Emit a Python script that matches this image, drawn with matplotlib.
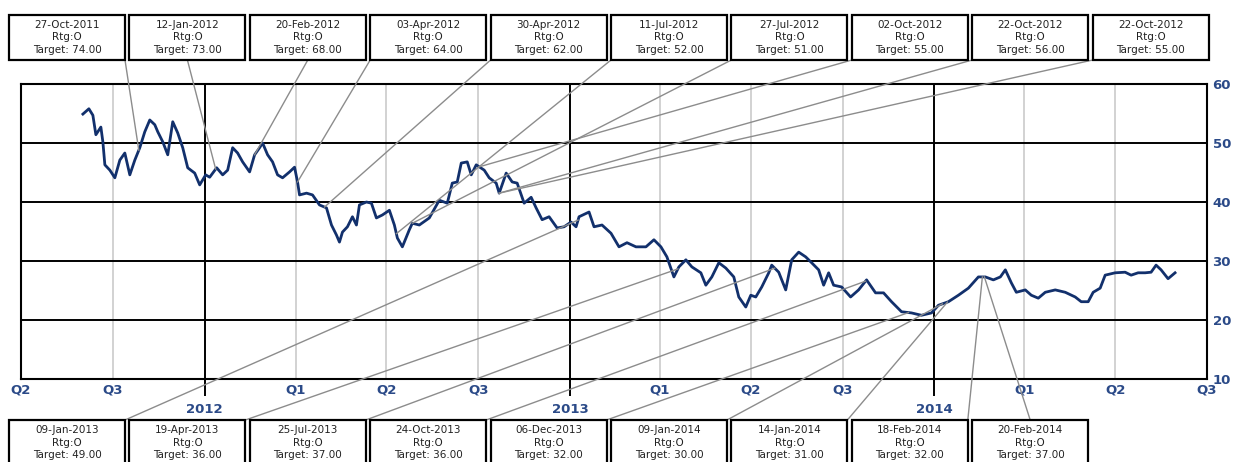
import numpy as np
import pandas as pd
import matplotlib
matplotlib.use("Agg")
import matplotlib.pyplot as plt
import matplotlib.dates as mdates
from matplotlib.patches import Rectangle
from matplotlib.lines import Line2D

# precio de cierre (lecturas aproximadas)
price_dates = [
    '2011-09-01', '2011-09-07', '2011-09-11', '2011-09-14', '2011-09-19', '2011-09-21',
    '2011-09-23', '2011-09-28', '2011-10-03', '2011-10-08', '2011-10-13', '2011-10-18',
    '2011-10-23', '2011-10-28', '2011-11-02', '2011-11-07', '2011-11-12', '2011-11-15',
    '2011-11-20', '2011-11-25', '2011-11-30', '2011-12-05', '2011-12-10', '2011-12-15',
    '2011-12-22', '2011-12-27', '2012-01-02', '2012-01-06', '2012-01-13', '2012-01-19',
    '2012-01-24', '2012-01-29', '2012-02-03', '2012-02-08', '2012-02-15', '2012-02-20',
    '2012-02-25', '2012-02-28', '2012-03-04', '2012-03-09', '2012-03-14', '2012-03-19',
    '2012-03-26', '2012-03-31', '2012-04-03', '2012-04-05', '2012-04-12', '2012-04-18',
    '2012-04-25', '2012-05-02', '2012-05-07', '2012-05-12', '2012-05-15', '2012-05-18',
    '2012-05-23', '2012-05-28', '2012-06-01', '2012-06-04', '2012-06-11', '2012-06-16',
    '2012-06-21', '2012-06-27', '2012-07-04', '2012-07-09', '2012-07-12', '2012-07-17',
    '2012-07-24', '2012-07-27', '2012-08-03', '2012-08-13', '2012-08-23', '2012-08-31',
    '2012-09-05', '2012-09-10', '2012-09-14', '2012-09-20', '2012-09-24', '2012-09-29',
    '2012-10-07', '2012-10-12', '2012-10-19', '2012-10-22', '2012-10-29', '2012-11-04',
    '2012-11-09', '2012-11-16', '2012-11-23', '2012-11-28', '2012-12-04', '2012-12-11',
    '2012-12-19', '2012-12-26', '2013-01-02', '2013-01-07', '2013-01-10', '2013-01-20',
    '2013-01-25', '2013-02-02', '2013-02-11', '2013-02-19', '2013-02-27', '2013-03-08',
    '2013-03-18', '2013-03-26', '2013-04-02', '2013-04-08', '2013-04-15', '2013-04-20',
    '2013-04-27', '2013-05-03', '2013-05-12', '2013-05-17', '2013-05-23', '2013-05-30',
    '2013-06-06', '2013-06-14', '2013-06-19', '2013-06-26', '2013-07-01', '2013-07-06',
    '2013-07-12', '2013-07-19', '2013-07-22', '2013-07-29', '2013-08-05', '2013-08-11',
    '2013-08-18', '2013-08-25', '2013-08-31', '2013-09-07', '2013-09-12', '2013-09-17',
    '2013-09-22', '2013-09-30', '2013-10-09', '2013-10-17', '2013-10-25', '2013-11-03',
    '2013-11-11', '2013-11-19', '2013-11-29', '2013-12-09', '2013-12-19', '2013-12-29',
    '2014-01-05', '2014-01-15', '2014-01-25', '2014-02-04', '2014-02-14', '2014-02-21',
    '2014-03-01', '2014-03-08', '2014-03-13', '2014-03-19', '2014-03-24', '2014-04-02',
    '2014-04-08', '2014-04-15', '2014-04-22', '2014-05-02', '2014-05-12', '2014-05-22',
    '2014-05-28', '2014-06-04', '2014-06-09', '2014-06-16', '2014-06-21', '2014-07-01',
    '2014-07-11', '2014-07-17', '2014-07-24', '2014-07-31', '2014-08-06', '2014-08-11',
    '2014-08-16', '2014-08-23', '2014-08-30',
]
prices = [
    54.9, 55.8, 54.7, 51.4, 52.7, 50.2,
    46.3, 45.4, 44.1, 47.1, 48.3, 44.6,
    47.1, 49.2, 51.9, 53.9, 53.1, 51.9,
    50.2, 48.0, 53.6, 51.7, 49.2, 45.8,
    44.9, 42.9, 44.6, 44.2, 45.8, 44.6,
    45.4, 49.2, 48.3, 46.8, 45.1, 48.0,
    49.2, 50.0, 48.0, 46.8, 44.6, 44.1,
    45.1, 45.9, 43.4, 41.2, 41.5, 41.2,
    39.5, 39.0, 36.1, 34.4, 33.2, 34.9,
    35.8, 37.5, 36.1, 39.5, 40.0, 39.8,
    37.3, 37.8, 38.6, 36.1, 33.9, 32.4,
    35.3, 36.4, 36.1, 37.3, 40.3, 39.8,
    43.2, 43.4, 46.6, 46.8, 44.6, 46.3,
    45.4, 44.1, 43.2, 41.5, 44.9, 43.4,
    43.2, 39.8, 40.8, 39.0, 37.0, 37.5,
    35.6, 35.8, 36.6, 35.8, 37.5, 38.3,
    35.8, 36.1, 34.7, 32.4, 33.1, 32.4,
    32.4, 33.6, 32.4, 30.7, 27.3, 29.0,
    30.2, 29.0, 28.0, 25.9, 27.3, 29.7,
    28.8, 27.3, 23.9, 22.2, 24.2, 23.9,
    25.6, 28.0, 29.3, 28.1, 25.1, 30.2,
    31.5, 30.7, 29.7, 28.5, 25.9, 28.0,
    25.9, 25.6, 23.9, 25.1, 26.8, 24.6,
    24.6, 23.1, 21.4, 21.2, 20.8, 21.2,
    22.5, 23.1, 24.2, 25.4, 27.3, 27.3,
    26.8, 27.3, 28.5, 26.3, 24.7, 25.1,
    24.2, 23.7, 24.7, 25.1, 24.7, 23.9,
    23.1, 23.1, 24.7, 25.4, 27.6, 28.0,
    28.1, 27.6, 28.0, 28.0, 28.1, 29.3,
    28.5, 27.0, 28.0,
]

# recomendaciones de analistas
top_dates = ['2011-10-27', '2012-01-12', '2012-02-20', '2012-04-03', '2012-04-30',
             '2012-07-11', '2012-07-27', '2012-10-02', '2012-10-22', '2012-10-22']
top_labels = ['27-Oct-2011', '12-Jan-2012', '20-Feb-2012', '03-Apr-2012', '30-Apr-2012',
              '11-Jul-2012', '27-Jul-2012', '02-Oct-2012', '22-Oct-2012', '22-Oct-2012']
top_targets = [74, 73, 68, 64, 62, 52, 51, 55, 56, 55]

bot_dates = ['2013-01-09', '2013-04-19', '2013-07-25', '2013-10-24', '2013-12-06',
             '2014-01-09', '2014-01-14', '2014-02-18', '2014-02-20']
bot_labels = ['09-Jan-2013', '19-Apr-2013', '25-Jul-2013', '24-Oct-2013', '06-Dec-2013',
              '09-Jan-2014', '14-Jan-2014', '18-Feb-2014', '20-Feb-2014']
bot_targets = [49, 36, 37, 36, 32, 30, 31, 32, 37]

# ejes
year_ticks = ['2012-01-01', '2013-01-01', '2014-01-01']
year_labels = ['2012', '2013', '2014']
quarter_ticks = ['2011-07-01', '2011-10-01', '2012-04-01', '2012-07-01', '2012-10-01',
                 '2013-04-01', '2013-07-01', '2013-10-01', '2014-04-01', '2014-07-01',
                 '2014-10-01']
quarter_labels = ['Q2', 'Q3', 'Q1', 'Q2', 'Q3', 'Q1', 'Q2', 'Q3', 'Q1', 'Q2', 'Q3']
y_ticks = [10, 20, 30, 40, 50, 60]

W, H = 1235, 462
azul = '#2b4a88'
linea = '#12306c'

fig = plt.figure(figsize=(W / 100, H / 100), dpi=100)
ax = fig.add_axes([21 / W, 1 - 379 / H, (1207 - 21) / W, (379 - 84) / H])

fechas = pd.to_datetime(price_dates)
ax.plot(fechas, prices, color=linea, lw=2.0, zorder=4)
x0 = pd.Timestamp('2011-07-01')
x1 = pd.Timestamp('2014-10-01')
ax.set_xlim(x0, x1)
ax.set_ylim(10, 60)

# rejilla: trimestres en gris, años en negro
for q in quarter_ticks:
    ax.axvline(pd.Timestamp(q), color='#c6c6c6', lw=1.1, zorder=1)
for yr in year_ticks:
    ax.axvline(pd.Timestamp(yr), color='black', lw=1.4, zorder=2)
for v in y_ticks[1:-1]:
    ax.axhline(v, color='black', lw=1.4, zorder=2)

ax.set_xticks(pd.to_datetime(year_ticks))
ax.set_xticklabels(year_labels)
ax.set_xticks(pd.to_datetime(quarter_ticks), minor=True)
ax.set_xticklabels(quarter_labels, minor=True)
ax.tick_params(axis='x', which='major', length=12, width=1.4, color='black',
               pad=5, labelsize=9.5, labelcolor=azul)
ax.tick_params(axis='x', which='minor', length=0, pad=3, labelsize=9.5, labelcolor=azul)
for t in ax.get_xticklabels(minor=False) + ax.get_xticklabels(minor=True):
    t.set_fontweight('bold')

ax.yaxis.tick_right()
ax.set_yticks(y_ticks)
ax.tick_params(axis='y', length=0, pad=4, labelsize=9.5, labelcolor=azul)
for t in ax.get_yticklabels():
    t.set_fontweight('bold')

for s in ax.spines.values():
    s.set_linewidth(1.5)
    s.set_color('black')


def fx(px):
    return px / W


def fy(py):
    return 1 - py / H


xnum = mdates.date2num(fechas)
bw, bh, paso, xini = 116, 45, 120.4, 9


def caja(i, fecha, etiqueta, objetivo, ytop, arriba):
    bx = xini + i * paso
    fig.add_artist(Rectangle((fx(bx), fy(ytop + bh)), bw / W, bh / H,
                             transform=fig.transFigure, facecolor='white',
                             edgecolor='black', lw=1.6, zorder=5))
    fig.text(fx(bx + bw / 2), fy(ytop + bh / 2),
             f"{etiqueta}\nRtg:O\nTarget: {objetivo:.2f}",
             ha='center', va='center', fontsize=7.5, linespacing=1.3,
             color='#222222', zorder=6)
    # punto del precio en esa fecha, en pixeles de la figura
    d = mdates.date2num(pd.Timestamp(fecha))
    yv = np.interp(d, xnum, prices)
    tx, ty = ax.transData.transform((d, yv))
    if tx < bx:
        cx = bx
    elif tx > bx + bw:
        cx = bx + bw
    else:
        cx = bx + bw / 2
    cy = ytop + bh if arriba else ytop
    fig.add_artist(Line2D([fx(cx), tx / W], [fy(cy), ty / H],
                          transform=fig.transFigure, color='#8c8c8c',
                          lw=1.0, zorder=3))


for i in range(len(top_dates)):
    caja(i, top_dates[i], top_labels[i], top_targets[i], 15, True)
for i in range(len(bot_dates)):
    caja(i, bot_dates[i], bot_labels[i], bot_targets[i], 420, False)

fig.savefig("out.png", dpi=100, facecolor='white')
